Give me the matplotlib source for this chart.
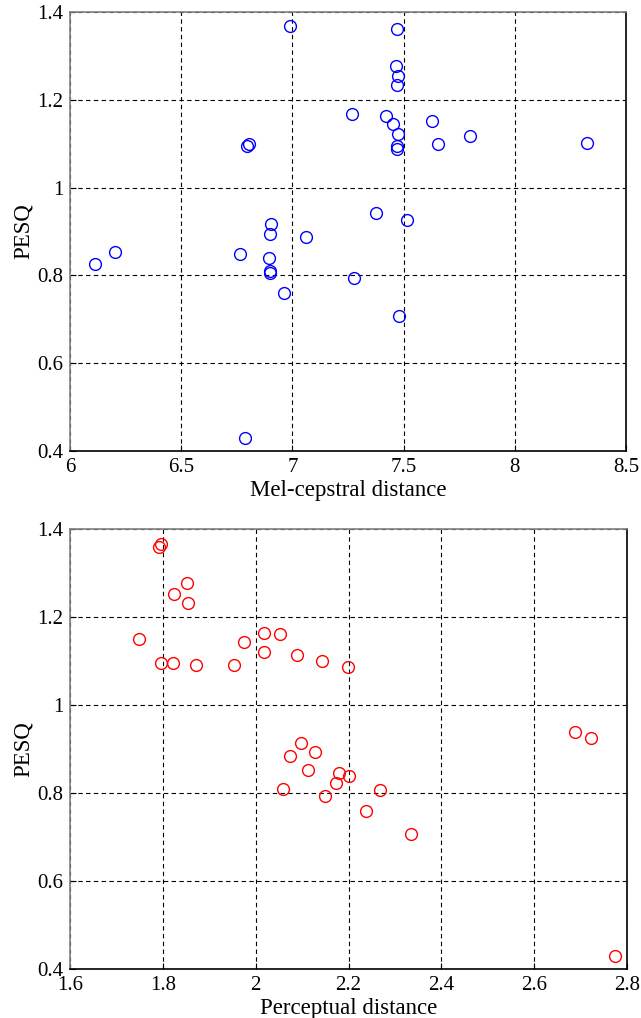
import matplotlib
matplotlib.use("Agg")
import matplotlib.pyplot as plt

mel_dist = [6.991, 7.269, 6.796, 6.806, 6.904, 7.471, 7.467, 7.476, 7.471, 7.419,
            7.453, 7.476, 7.471, 7.471, 7.626, 7.655, 7.800, 8.324, 7.377, 7.517,
            6.113, 6.203, 6.766, 6.893, 6.898, 6.898, 6.898, 6.961, 7.060, 7.276,
            6.788, 7.480]
mel_pesq = [1.368, 1.1675, 1.094, 1.099, 0.916, 1.361, 1.278, 1.2545, 1.234, 1.1636,
            1.1455, 1.1227, 1.094, 1.0886, 1.1515, 1.0993, 1.1166, 1.1007, 0.9424, 0.9265,
            0.825, 0.854, 0.8477, 0.8386, 0.8947, 0.8098, 0.806, 0.7606, 0.8864, 0.7932,
            0.4295, 0.7084]

perc_dist = [1.792, 1.797, 1.852, 1.824, 1.854, 1.749, 1.797, 1.822, 1.871, 1.953,
             1.974, 2.017, 2.017, 2.053, 2.089, 2.142, 2.199, 2.098, 2.073, 2.128,
             2.688, 2.722, 2.113, 2.180, 2.200, 2.174, 2.059, 2.150, 2.268, 2.238,
             2.335, 2.774]
perc_pesq = [1.3598, 1.366, 1.2766, 1.2523, 1.2326, 1.1493, 1.0962, 1.0962, 1.0902, 1.0902,
             1.1432, 1.1644, 1.1205, 1.1614, 1.1136, 1.0993, 1.0857, 0.9144, 0.884, 0.893,
             0.9393, 0.9243, 0.853, 0.845, 0.838, 0.8226, 0.809, 0.7925, 0.806, 0.7585,
             0.7064, 0.4287]

mel_xticks = [6, 6.5, 7, 7.5, 8, 8.5]
mel_xlabels = ["6", "6.5", "7", "7.5", "8", "8.5"]
perc_xticks = [1.6, 1.8, 2.0, 2.2, 2.4, 2.6, 2.8]
perc_xlabels = ["1.6", "1.8", "2", "2.2", "2.4", "2.6", "2.8"]
yticks = [0.4, 0.6, 0.8, 1.0, 1.2, 1.4]
ylabels = ["0.4", "0.6", "0.8", "1", "1.2", "1.4"]

plt.rcParams['font.family'] = ['Liberation Serif', 'DejaVu Serif']

fig = plt.figure(figsize=(6.41, 10.18), dpi=100)
ax1 = fig.add_axes([70/641, 1-451/1018, 556/641, 439/1018])
ax2 = fig.add_axes([70/641, 1-969/1018, 557/641, 440/1018])

def style(ax, x, y, color, xticks, xlabels, xlabel):
    ax.plot(x, y, linestyle='none', marker='o', markersize=8.5, markerfacecolor='none',
            markeredgecolor=color, markeredgewidth=1.0)
    ax.set_xlim(xticks[0], xticks[-1])
    ax.set_ylim(0.4, 1.4)
    ax.set_xticks(xticks)
    ax.set_xticklabels(xlabels)
    ax.set_yticks(yticks)
    ax.set_yticklabels(ylabels)
    ax.grid(True, color='black', linestyle=(0, (4, 3)), linewidth=0.8)
    ax.tick_params(direction='in', length=4, labelsize=15, top=False, right=False, pad=5)
    ax.set_xlabel(xlabel, fontsize=16.5, labelpad=2)
    ax.set_ylabel("PESQ", fontsize=16.5, labelpad=2)
    for s in ['top', 'left']:
        ax.spines[s].set_color('#808080')
    for s in ['right', 'bottom']:
        ax.spines[s].set_color('black')
    for s in ax.spines.values():
        s.set_linewidth(1.2)

style(ax1, mel_dist, mel_pesq, 'blue', mel_xticks, mel_xlabels, "Mel-cepstral distance")
style(ax2, perc_dist, perc_pesq, 'red', perc_xticks, perc_xlabels, "Perceptual distance")

fig.savefig("out.png", dpi=100)
